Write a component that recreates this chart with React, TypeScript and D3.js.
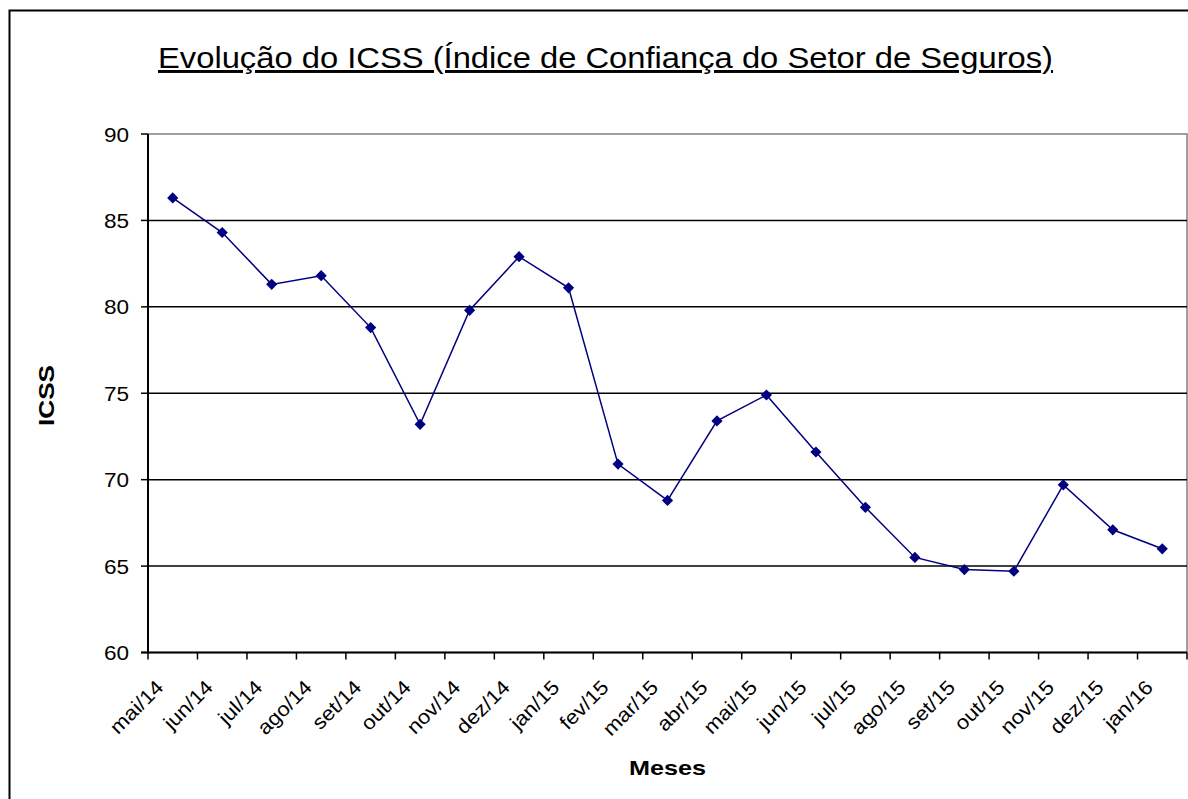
import React, { useEffect, useRef } from 'react';
import * as d3 from 'd3';

const months = [
  'mai/14', 'jun/14', 'jul/14', 'ago/14', 'set/14', 'out/14', 'nov/14',
  'dez/14', 'jan/15', 'fev/15', 'mar/15', 'abr/15', 'mai/15', 'jun/15',
  'jul/15', 'ago/15', 'set/15', 'out/15', 'nov/15', 'dez/15', 'jan/16',
];
const icss = [
  86.3, 84.3, 81.3, 81.8, 78.8, 73.2, 79.8, 82.9, 81.1, 70.9, 68.8,
  73.4, 74.9, 71.6, 68.4, 65.5, 64.8, 64.7, 69.7, 67.1, 66.0,
];
const yTicks = [60, 65, 70, 75, 80, 85, 90];

const W = 1188;
const H = 799;
const WIDEN = 1.1; // glyphs in the original are a bit wider than Arial

const App: React.FC = () => {
  const svgRef = useRef<SVGSVGElement | null>(null);

  useEffect(() => {
    document.body.style.margin = '0';
    const svg = d3.select(svgRef.current);
    svg.selectAll('*').remove();

    const left = 148, right = 1187, top = 134, bottom = 652.5;
    const font = 'Arial, "Liberation Sans", sans-serif';

    // outer frame
    svg.append('rect')
      .attr('x', 9.5).attr('y', 10.5)
      .attr('width', W + 20).attr('height', H + 20)
      .attr('fill', 'none').attr('stroke', '#000').attr('stroke-width', 2);

    const x = d3.scaleBand().domain(months).range([left, right]);
    const y = d3.scaleLinear().domain([60, 90]).range([bottom, top]);

    // plot border
    svg.append('rect')
      .attr('x', left).attr('y', top)
      .attr('width', right - left).attr('height', bottom - top)
      .attr('fill', 'none').attr('stroke', '#808080').attr('stroke-width', 1.5);

    // gridlines
    svg.append('g')
      .selectAll('line')
      .data(yTicks.filter(t => t > 60 && t < 90))
      .join('line')
      .attr('x1', left).attr('x2', right)
      .attr('y1', d => y(d)).attr('y2', d => y(d))
      .attr('stroke', '#000').attr('stroke-width', 1.5);

    // y axis
    const ya = svg.append('g');
    ya.append('line')
      .attr('x1', left).attr('x2', left).attr('y1', top).attr('y2', bottom)
      .attr('stroke', '#000').attr('stroke-width', 2);
    ya.selectAll('line.tick')
      .data(yTicks)
      .join('line')
      .attr('class', 'tick')
      .attr('x1', left - 7).attr('x2', left)
      .attr('y1', d => y(d)).attr('y2', d => y(d))
      .attr('stroke', '#000').attr('stroke-width', 1.5);
    ya.selectAll('text')
      .data(yTicks)
      .join('text')
      .attr('transform', d => `translate(129,${y(d) + 7.5}) scale(${WIDEN},1)`)
      .attr('text-anchor', 'end')
      .attr('font-family', font).attr('font-size', 20.5)
      .text(d => d);

    // x axis
    const xa = svg.append('g');
    xa.append('line')
      .attr('x1', left - 7).attr('x2', right).attr('y1', bottom).attr('y2', bottom)
      .attr('stroke', '#000').attr('stroke-width', 2);
    const bounds = months.map(m => x(m)!).concat([right]);
    xa.selectAll('line.tick')
      .data(bounds)
      .join('line')
      .attr('class', 'tick')
      .attr('x1', d => d).attr('x2', d => d)
      .attr('y1', bottom).attr('y2', bottom + 7)
      .attr('stroke', '#000').attr('stroke-width', 1.5);
    xa.selectAll('text')
      .data(months)
      .join('text')
      .attr('transform', d =>
        `translate(${x(d)! + x.bandwidth() / 2 - 8},${bottom + 36}) rotate(-45) scale(${WIDEN},1)`)
      .attr('text-anchor', 'end')
      .attr('font-family', font).attr('font-size', 20)
      .text(d => d);

    // line + markers
    const cx = (i: number) => x(months[i])! + x.bandwidth() / 2;
    const line = d3.line<number>()
      .x((_, i) => cx(i))
      .y(d => y(d));
    svg.append('path')
      .datum(icss)
      .attr('d', line)
      .attr('fill', 'none')
      .attr('stroke', '#000080')
      .attr('stroke-width', 1.5);
    const sym = d3.symbol().type(d3.symbolDiamond2).size(80);
    svg.append('g')
      .selectAll('path')
      .data(icss)
      .join('path')
      .attr('transform', (d, i) => `translate(${cx(i)},${y(d)})`)
      .attr('d', sym)
      .attr('fill', '#000080');

    // title
    svg.append('text')
      .attr('x', 158).attr('y', 68)
      .attr('textLength', 895)
      .attr('lengthAdjust', 'spacingAndGlyphs')
      .attr('font-family', font).attr('font-size', 29.5)
      .attr('text-decoration', 'underline')
      .text('Evolução do ICSS (Índice de Confiança do Setor de Seguros)');

    // axis titles
    svg.append('text')
      .attr('x', 629).attr('y', 775)
      .attr('textLength', 77)
      .attr('lengthAdjust', 'spacingAndGlyphs')
      .attr('font-family', font).attr('font-size', 21).attr('font-weight', 'bold')
      .text('Meses');
    svg.append('text')
      .attr('transform', 'translate(54,426) rotate(-90)')
      .attr('textLength', 61)
      .attr('lengthAdjust', 'spacingAndGlyphs')
      .attr('font-family', font).attr('font-size', 22).attr('font-weight', 'bold')
      .text('ICSS');
  }, []);

  return <svg ref={svgRef} width={W} height={H} style={{ display: 'block' }} />;
};

export default App;
